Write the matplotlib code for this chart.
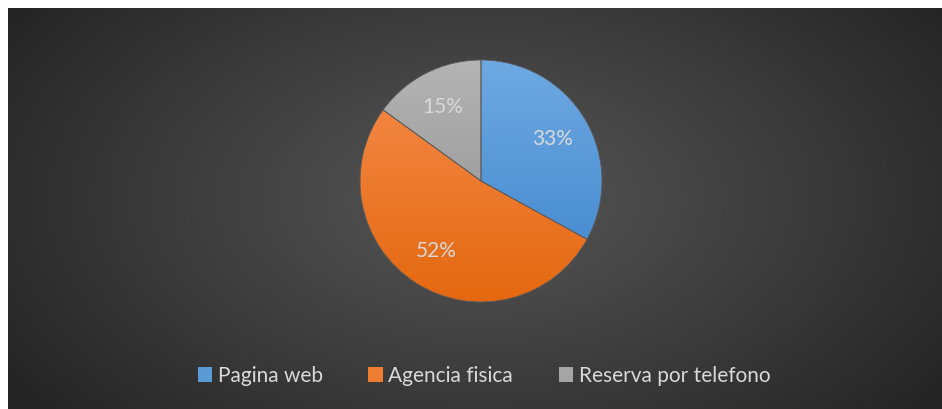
import numpy as np
import matplotlib.pyplot as plt
from matplotlib.patches import Patch

labels = ["Pagina web", "Agencia fisica", "Reserva por telefono"]
values = [33, 52, 15]
top_colors = ["#6ea9e2", "#f68d4e", "#b4b4b4"]
bottom_colors = ["#3d85cc", "#e4680f", "#8c8c8c"]
mid_colors = ["#5b9bd5", "#ed7d31", "#a5a5a5"]

W, H = 942, 409
fig = plt.figure(figsize=(W / 100, H / 100), dpi=100)
fig.patch.set_facecolor("white")

# dark radial background
bg = fig.add_axes([8 / W, 0, (W - 8) / W, (H - 8) / H])
bg.set_axis_off()
yy, xx = np.mgrid[0:401, 0:934]
cx, cy = 473, 190
r = np.sqrt(((xx - cx) / 560.0) ** 2 + ((yy - cy) / 330.0) ** 2)
r = np.clip(r, 0, 1)
v = 0x55 - (0x55 - 0x25) * r ** 1.1
img = np.dstack([v, v, v]) / 255.0
bg.imshow(img, aspect="auto", extent=[0, 1, 0, 1], origin="upper")
bg.set_xlim(0, 1)
bg.set_ylim(0, 1)

# pie
ax = fig.add_axes([(481 - 121) / W, (H - 181 - 121) / H, 242 / W, 242 / H])
ax.set_axis_off()
wedges, texts = ax.pie(values, startangle=90, counterclock=False, colors=mid_colors,
                       wedgeprops=dict(linewidth=0.6, edgecolor="#5a5a5a"))
ax.set_xlim(-1, 1)
ax.set_ylim(-1, 1)
ax.set_aspect("auto")

for w, c1, c2 in zip(wedges, top_colors, bottom_colors):
    a = np.array(plt.matplotlib.colors.to_rgb(c1))
    b = np.array(plt.matplotlib.colors.to_rgb(c2))
    t = np.linspace(0, 1, 256)[:, None]
    grad = (a * (1 - t) + b * t)[:, None, :]
    im = ax.imshow(grad, extent=[-1, 1, -1, 1], aspect="auto", origin="upper", zorder=2)
    im.set_clip_path(w)
    w.set_zorder(3)
    w.set_facecolor("none")

# percentage labels
ang0 = 90.0
total = sum(values)
for val in values:
    mid = np.deg2rad(ang0 - 360.0 * val / total / 2)
    ax.text(0.69 * np.cos(mid), 0.69 * np.sin(mid), "{}%".format(val), ha="center",
            va="center", fontsize=15, color="#d9d9d9", family="Lato", zorder=5)
    ang0 -= 360.0 * val / total

handles = [Patch(facecolor=c, edgecolor="none") for c in mid_colors]
fig.legend(handles, labels, loc="center", bbox_to_anchor=(484 / W, (H - 376) / H), ncol=3,
           frameon=False, prop={"family": "Lato", "size": 15}, labelcolor="#d9d9d9",
           handlelength=0.7, handleheight=0.7, handletextpad=0.25, columnspacing=2.2)

fig.savefig("out.png", dpi=100, facecolor="white")
